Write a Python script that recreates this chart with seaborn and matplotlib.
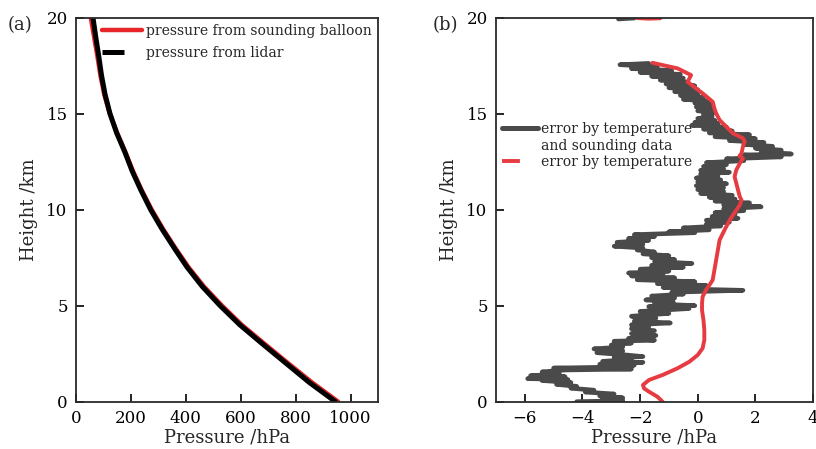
import numpy as np
import pandas as pd
import matplotlib
matplotlib.use("Agg")
import matplotlib.pyplot as plt
import seaborn as sns
from matplotlib.lines import Line2D

# ---------------- data: panel (a) ----------------
height_km = [0, 1, 2, 3, 4, 5, 6, 7, 8, 9, 10, 11, 12, 13, 14, 15, 16, 17, 18, 19, 20]
p_lidar = [945, 850, 765, 680, 597, 525, 460, 405, 358, 313, 272, 237, 205, 178, 148,
           124, 106, 93, 83, 72, 62]
p_balloon = [955, 860, 773, 688, 604, 532, 466, 410, 362, 317, 276, 240, 208, 180, 150,
             123, 103, 89, 78, 66, 54]

# ---------------- data: panel (b) ----------------
gray_h = [0.0, 0.05, 0.15, 0.2, 0.3, 0.4, 0.5, 0.6, 0.7, 0.8, 0.9, 1.0, 1.1, 1.15, 1.2,
          1.3, 1.35, 1.45, 1.55, 1.65, 1.7, 1.75, 1.8, 1.9, 1.95, 2.05, 2.1, 2.2, 2.3,
          2.35, 2.45, 2.55, 2.65, 2.75, 2.85, 2.95, 3.05, 3.15, 3.2, 3.3, 3.45, 3.55,
          3.7, 3.8, 3.9, 4.0, 4.1, 4.2, 4.35, 4.45, 4.6, 4.7, 4.85, 4.95, 5.0, 5.1, 5.2,
          5.3, 5.4, 5.5, 5.6, 5.7, 5.8, 5.85, 5.95, 6.05, 6.15, 6.25, 6.35, 6.45, 6.55,
          6.65, 6.7, 6.8, 6.9, 7.0, 7.1, 7.2, 7.3, 7.4, 7.5, 7.6, 7.7, 7.8, 7.9, 8.0,
          8.1, 8.2, 8.3, 8.4, 8.5, 8.6, 8.7, 8.8, 8.85, 8.95, 9.05, 9.15, 9.25, 9.35,
          9.45, 9.55, 9.65, 9.75, 9.85, 9.95, 10.05, 10.15, 10.25, 10.35, 10.45, 10.55,
          10.65, 10.75, 10.85, 10.95, 11.05, 11.15, 11.25, 11.35, 11.45, 11.55, 11.65,
          11.75, 11.85, 11.95, 12.05, 12.15, 12.25, 12.35, 12.45, 12.55, 12.65, 12.75,
          12.85, 12.9, 13.0, 13.1, 13.2, 13.3, 13.4, 13.5, 13.6, 13.7, 13.8, 13.9, 14.0,
          14.1, 14.2, 14.3, 14.4, 14.5, 14.55, 14.65, 14.75, 14.85, 14.95, 15.05, 15.15,
          15.25, 15.35, 15.45, 15.55, 15.65, 15.75, 15.85, 15.95, 16.05, 16.15, 16.25,
          16.35, 16.45, 16.55, 16.65, 16.75, 16.85, 16.95, 17.05, 17.15, 17.25, 17.35,
          17.45, 17.55, 17.62]
gray_dp = [-4.2, -2.6, -3.3, -2.6, -3.4, -2.9, -3.9, -3.6, -4.4, -4.2, -4.9, -4.4, -5.4,
           -4.5, -5.9, -4.6, -5.8, -4.8, -5.4, -4.6, -2.3, -5.0, -3.0, -2.2, -3.4, -1.9,
           -3.3, -2.3, -2.9, -1.9, -2.6, -3.5, -2.6, -3.6, -2.6, -3.0, -2.3, -2.9, -1.5,
           -2.4, -1.45, -2.3, -1.5, -2.3, -1.7, -2.3, -0.95, -2.2, -1.45, -2.3, -1.0,
           -2.0, -0.3, -1.7, -0.1, -1.5, -0.85, -1.8, -0.8, -1.6, -0.5, -0.9, 1.57, 0.2,
           -1.2, 0.3, -1.4, -0.1, -2.1, -0.8, -2.3, -1.2, -2.4, -1.0, -2.0, -0.5, -1.6,
           -0.2, -1.5, -0.8, -1.6, -1.0, -1.9, -1.5, -2.1, -1.9, -2.9, -1.9, -2.8, -1.7,
           -2.4, -1.5, -2.2, -0.1, -1.0, 0.4, -0.5, 0.8, 0.3, 1.1, 0.3, 1.4, 0.5, 1.3,
           0.6, 1.6, 0.9, 2.2, 0.9, 1.8, 0.6, 1.3, 0.4, 1.2, 0.1, 0.9, 0.0, 0.9, -0.05,
           1.0, 0.0, 0.8, -0.05, 0.7, 0.1, 1.1, 0.1, 0.9, 0.2, 1.0, 0.3, 1.6, 1.0, 2.9,
           1.6, 3.25, 2.2, 2.9, 2.0, 2.6, 1.6, 2.3, 1.1, 2.0, 0.6, 1.8, 0.4, 1.2, 0.2,
           1.0, -0.2, 0.7, -0.1, 0.6, 0.0, 0.5, 0.2, 0.6, 0.0, 0.5, -0.05, 0.5, -0.1,
           0.4, -0.5, 0.2, -0.6, 0.0, -0.8, 0.0, -1.0, -0.1, -1.1, -0.4, -1.3, -0.5, -1.6,
           -0.6, -2.0, -0.9, -2.3, -1.4, -2.7, -1.7]
red_h = [0.0, 0.26, 0.52, 0.69, 0.87, 1.13, 1.39, 1.74, 2.08, 2.43, 2.78, 3.21, 3.73,
         4.25, 4.77, 5.12, 5.47, 5.82, 6.08, 6.34, 6.86, 7.38, 7.9, 8.42, 8.94, 9.46,
         9.98, 10.24, 10.5, 10.68, 11.02, 11.37, 11.72, 12.07, 12.41, 12.67, 12.8, 12.93,
         13.28, 13.54, 13.72, 13.98, 14.32, 14.67, 15.02, 15.27, 15.62, 16.06, 16.32,
         16.66, 17.01, 17.36, 17.65]
red_dp = [-1.22, -1.40, -1.69, -1.86, -1.90, -1.69, -1.22, -0.70, -0.29, 0.0, 0.17, 0.23,
          0.23, 0.20, 0.15, 0.15, 0.17, 0.29, 0.41, 0.52, 0.58, 0.64, 0.70, 0.76, 0.93,
          1.11, 1.34, 1.46, 1.52, 1.46, 1.40, 1.34, 1.28, 1.34, 1.46, 1.57, 1.45, 1.52,
          1.57, 1.63, 1.57, 1.22, 0.99, 0.76, 0.64, 0.58, 0.52, 0.17, -0.06, -0.35,
          -0.23, -0.70, -1.57]
top_gray_h = [19.93, 19.96, 19.98]
top_gray_dp = [-2.75, -2.45, -2.2]
top_red_h = [19.98, 19.95, 19.97]
top_red_dp = [-2.1, -1.7, -1.3]

leg_a = ["pressure from sounding balloon", "pressure from lidar"]
leg_b = ["error by temperature", "and sounding data", "error by temperature"]

RED_A = "#e8262a"
RED_B = "#e63b40"
GRAY = "#4a4a4a"
SPINE = "#2a2a2a"

sns.set_style("ticks")
plt.rcParams["font.family"] = ["DejaVu Serif"]
plt.rcParams["mathtext.fontset"] = "dejavuserif"

fig = plt.figure(figsize=(8.16, 4.49), dpi=100)
ax1 = fig.add_axes([0.0931, 0.1054, 0.3701, 0.8552])
ax2 = fig.add_axes([0.6078, 0.1054, 0.3885, 0.8552])

df_a = pd.DataFrame({"h": height_km * 2,
                     "p": p_balloon + p_lidar,
                     "src": ["balloon"] * len(height_km) + ["lidar"] * len(height_km)})
sns.lineplot(data=df_a[df_a.src == "balloon"], x="p", y="h", sort=False, estimator=None,
             color=RED_A, lw=3.2, ax=ax1, legend=False)
sns.lineplot(data=df_a[df_a.src == "lidar"], x="p", y="h", sort=False, estimator=None,
             color="black", lw=3.6, ax=ax1, legend=False)

df_g = pd.DataFrame({"h": gray_h + top_gray_h, "dp": gray_dp + top_gray_dp,
                     "seg": [0] * len(gray_h) + [1] * len(top_gray_h)})
df_r = pd.DataFrame({"h": red_h + top_red_h, "dp": red_dp + top_red_dp,
                     "seg": [0] * len(red_h) + [1] * len(top_red_h)})
sns.lineplot(data=df_g, x="dp", y="h", units="seg", sort=False, estimator=None,
             color=GRAY, lw=3.3, ax=ax2, legend=False)
sns.lineplot(data=df_r, x="dp", y="h", units="seg", sort=False, estimator=None,
             color=RED_B, lw=2.8, ax=ax2, legend=False)

for ax in (ax1, ax2):
    ax.set_ylim(0, 20)
    ax.set_yticks([0, 5, 10, 15, 20])
    ax.tick_params(direction="in", length=6, width=1.2, labelsize=12, pad=6,
                   colors="black")
    for s in ax.spines.values():
        s.set_linewidth(1.3)
        s.set_color(SPINE)
    ax.set_ylabel("Height /km", fontsize=13, labelpad=6)
    ax.set_xlabel("Pressure /hPa", fontsize=13, labelpad=1)

ax1.set_xlim(0, 1100)
ax1.set_xticks([0, 200, 400, 600, 800, 1000])
ax2.set_xlim(-7, 4)
ax2.set_xticks([-6, -4, -2, 0, 2, 4])

# legends
h_a = [Line2D([], [], color=RED_A, lw=3.2),
       Line2D([], [], color="black", lw=3.6, linestyle=(0, (4.4, 20)))]
ax1.legend(h_a, leg_a, loc="upper right", bbox_to_anchor=(1.0, 1.0), frameon=False,
           fontsize=10, handlelength=2.9, handletextpad=0.3, labelspacing=0.6,
           borderpad=0.45, borderaxespad=0.0)

h_b = [Line2D([], [], color=GRAY, lw=3.6),
       Line2D([], [], color="none", lw=0),
       Line2D([], [], color=RED_B, lw=2.8, linestyle=(0, (4.6, 20)))]
ax2.legend(h_b, leg_b, loc="upper left", bbox_to_anchor=(0.02, 0.729), frameon=False,
           fontsize=10, handlelength=2.55, handletextpad=0.25, labelspacing=0.2,
           borderpad=0.0, borderaxespad=0.0)

fig.text(8 / 816, 1 - 25 / 449, "(a)", fontsize=13, va="center", ha="left")
fig.text(433 / 816, 1 - 25 / 449, "(b)", fontsize=13, va="center", ha="left")

fig.savefig("out.png", dpi=100)
